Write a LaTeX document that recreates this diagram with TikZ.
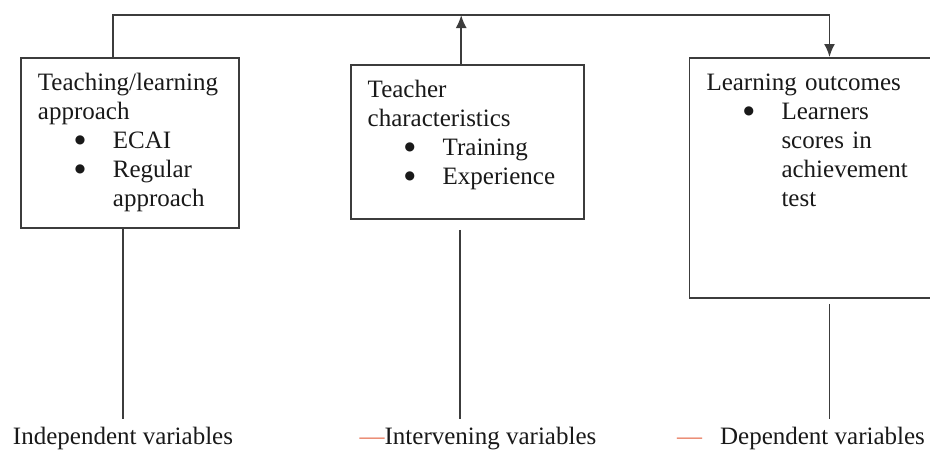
\documentclass[tikz,border=0pt]{standalone}
\usepackage{fontspec}
\setmainfont{Liberation Serif}
\newfontfamily\dotfont{DejaVu Sans}
\usepackage{xcolor}
\usetikzlibrary{arrows.meta, positioning}
\definecolor{linegray}{RGB}{60,60,60}
\definecolor{dashred}{RGB}{230,115,85}
\hyphenpenalty=10000
\newcommand{\bul}{\makebox[75pt][l]{\hspace{37pt}\raisebox{5pt}{\dotfont\fontsize{12}{12}\selectfont ●}}}
\newcommand{\ind}{\hspace*{75pt}}

\begin{document}
\begin{tikzpicture}[x=1pt, y=-1pt]
\tikzstyle{varbox} = [rectangle, draw=linegray, line width=1.8pt, align=left, anchor=north west, inner xsep=17pt, inner ysep=15pt, text height=18pt, font=\fontsize{25}{29}\selectfont, text=black!90]
\tikzstyle{varlabel} = [font=\fontsize{25}{29}\selectfont, text=black!90, text height=18pt, text depth=6pt, inner sep=7pt, anchor=base]
\tikzstyle{arrow} = [line width=1.8pt, draw=linegray, -{Latex[length=13pt,width=11pt]}]
\tikzstyle{link} = [line width=1.8pt, draw=linegray]

\clip (0,0) rectangle (930,450);

\node (tla) [varbox, text width=184pt, text depth=122pt] at (20,57) {Teaching/learning\\approach\\\bul ECAI\\\bul Regular\\\ind approach};
\node (tc) [varbox, text width=199pt, text depth=106pt, right=110pt of tla.north east, anchor=north west, yshift=-7pt] {Teacher\\characteristics\\\bul Training\\\bul Experience};
\node (lo) [varbox, text width=246pt, text depth=192pt, right=104pt of tc.north east, anchor=north west, yshift=7pt] {Learning outcomes\\\bul Learners\\\ind scores in\\\ind achievement\\\ind test};

\node (iv) [varlabel] at (123,444) {Independent variables};
\node (itv) [varlabel] at (478,444) {\textcolor{dashred}{—}Intervening variables};
\node (dv) [varlabel] at (801,444) {\textcolor{dashred}{—}\hspace{18pt}Dependent variables};

\coordinate (bus) at (113,15);

\draw [arrow] (tla.north -| bus) -- (bus) -| (lo.north);
\draw [arrow] ([xshift=-6pt]tc.north) -- ([xshift=-6pt]tc.north |- bus);

\draw [link] (tla.south -| iv.north) -- (iv.north);
\draw [link] ([xshift=-7pt, yshift=-10pt]tc.south) -- ([xshift=-7pt]tc.south |- itv.north);
\draw [link] ([yshift=-5pt]lo.south) -- (lo.south |- dv.north);

\end{tikzpicture}
\end{document}
